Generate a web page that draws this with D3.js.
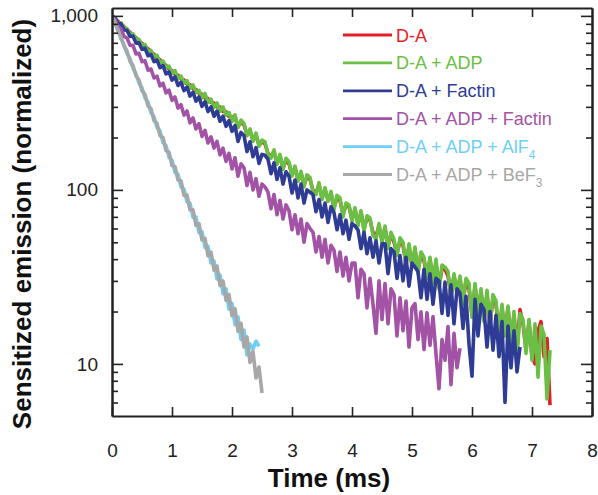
<!DOCTYPE html>
<html><head><meta charset="utf-8">
<script src="https://cdn.jsdelivr.net/npm/d3@7"></script>
<style>body{margin:0;background:#fff}svg{display:block}</style>
</head><body><svg id="chart" width="598" height="495"></svg>
<script>
// sampling interval of the traces (ms)
const sampleInterval = 0.05;

const seriesNames = ["D-A", "D-A + ADP", "D-A + Factin", "D-A + ADP + Factin", "D-A + ADP + AlF", "D-A + ADP + BeF"];
const seriesSubs  = ["", "", "", "", "4", "3"];
const seriesColors = ["#e41e26", "#6abf45", "#2e3c96", "#a253a6", "#6dcff6", "#a7a7a7"];

const xTicks = [0, 1, 2, 3, 4, 5, 6, 7, 8];
const yMajorTicks = [10, 100, 1000];
const yMinorTicks = [6, 7, 8, 9, 20, 30, 40, 50, 60, 70, 80, 90, 200, 300, 400, 500, 600, 700, 800, 900];

const dA = [1000, 960, 932, 892, 868, 830,
806, 771, 749, 716, 696, 665, 647, 618, 602, 574, 559, 533, 520, 495, 484,
462, 456, 434, 428, 407, 402, 382, 378, 358, 355, 337, 335, 318, 316, 300,
299, 282, 281, 264, 263, 262, 230, 246, 236, 208, 219, 192, 207, 181, 189,
184, 162, 155, 166, 142, 156, 133, 148, 141, 122, 134, 114, 125, 106, 119,
115, 99, 96, 107, 90, 100, 88, 95, 79, 90, 87, 72, 82, 80, 68,
77, 64, 74, 60, 69, 67, 57, 54, 62, 51, 60, 48, 55, 50, 43,
51, 48, 38, 47, 37, 45, 34, 43, 39, 32, 40, 30, 38, 28, 35,
35, 32, 25, 32, 26, 31, 23, 30, 27, 19, 28, 20, 26, 18, 25,
17, 24, 22, 15, 21, 15, 21, 13.5, 19, 12, 20.5, 17, 12, 17.5, 11,
10, 15.5, 17.5, 11, 14, 5.8];

const dA_ADP = [1000, 974, 910, 914, 855, 845,
787, 789, 735, 733, 679, 685, 625, 633, 584, 594, 539, 550, 507, 514, 467,
485, 434, 451, 411, 425, 382, 401, 363, 373, 337, 358, 318, 332, 297, 316,
283, 300, 269, 279, 247, 270, 228, 252, 241, 205, 224, 190, 212, 178, 193,
189, 160, 152, 170, 140, 160, 131, 152, 145, 120, 137, 112, 128, 104, 122,
118, 97, 94, 110, 88, 103, 86, 98, 77, 93, 90, 70, 84, 82, 66,
79, 62, 76, 58, 71, 69, 55, 52, 64, 50, 62, 46, 57, 52, 42,
53, 50, 37, 49, 36, 47, 33, 44, 41, 31, 41, 29, 40, 27, 37,
36, 34, 24, 33, 25, 32, 22, 31, 29, 18.5, 29, 19, 27, 17.5, 26.5,
16.5, 25, 23, 14.5, 22, 14.5, 21.5, 13, 20, 11, 19.5, 18, 11.5, 18, 10.5,
17, 8.4, 16.5, 14.8, 6.3, 12];

const dA_Factin = [1000, 973, 906, 900, 829, 827,
762, 765, 697, 700, 642, 652, 590, 600, 546, 557, 504, 518, 464, 476, 428,
446, 398, 415, 372, 390, 346, 364, 324, 342, 302, 321, 282, 300, 265, 284,
248, 265, 232, 250, 217, 234, 190, 214, 205, 166, 189, 155, 175, 142, 160,
158, 150, 124, 143, 115, 134, 108, 127, 120, 96, 114, 90, 108, 84, 100,
97, 94, 75, 88, 70, 84, 65, 80, 74, 59, 72, 56, 67, 52, 64,
62, 59, 46, 57, 43, 53, 41, 51, 38, 49, 49, 33, 46, 44, 31,
42, 30, 41, 28, 38, 36, 34, 24, 35, 23.5, 33, 22, 31, 30, 19.5,
29.5, 19, 28.5, 17, 27, 25.5, 16, 24.5, 13, 8.5, 23.5, 14.5, 22, 20.5, 12.5,
20, 12, 19, 11, 17.5, 6, 16.5, 9.5, 15.5, 9, 12.5];

const dA_ADP_Factin = [1000, 953, 864, 845, 762, 746,
677, 678, 605, 610, 545, 552, 488, 495, 440, 450, 396, 410, 361, 374, 327,
342, 295, 309, 269, 284, 243, 259, 224, 240, 203, 220, 186, 202, 174, 190,
159, 174, 146, 162, 132, 153, 120, 141, 134, 106, 126, 100, 116, 92, 108,
104, 97, 78, 94, 72, 87, 68, 82, 76, 59, 72, 56, 68, 50, 64,
60, 57, 44, 54, 41, 52, 38, 48, 45, 34, 44, 32, 41, 30, 38,
38, 24, 35, 33, 21, 31, 22, 15, 30, 18, 29, 17, 27, 25, 14.5,
24, 15.5, 23, 12.5, 21, 22.2, 13.8, 19.9, 12.1, 19.7, 12.8, 18.7, 11.4, 7.2, 13.8,
10.5, 16.4, 7.6, 15, 9.5, 12.3];

const dA_ADP_AlF4 = [1000, 899, 832, 737, 686, 607, 567, 500, 466, 410,
386, 337, 320, 277, 264, 228, 218, 187, 180, 154, 148, 126, 123, 104, 101,
85.3, 83.9, 69.5, 69.8, 56.7, 57.5, 46.7, 47.4, 38, 39, 30.8, 32.4, 25.3, 27, 20.6,
22.3, 16.8, 18.6, 13.8, 15.6, 11.3, 13, 12.2, 13.5, 12.6];

const dA_ADP_BeF3 = [1000, 917, 816, 759, 669, 628, 548, 518, 452, 428,
371, 354, 304, 293, 250, 241, 205, 200, 168, 165, 138, 136, 114, 113, 93,
93.3, 76.7, 76.9, 62.5, 63.9, 51.5, 52.7, 41.9, 43.9, 34.6, 36.5, 28.2, 30, 23.2, 25,
18.9, 20.8, 15.4, 17.1, 12.5, 14.3, 10.2, 11.8, 8.3, 9.6, 6.8];

const seriesData = [dA, dA_ADP, dA_Factin, dA_ADP_Factin, dA_ADP_AlF4, dA_ADP_BeF3];

const svg = d3.select("#chart");
const W = 598, H = 495;
const plot = {left: 112, right: 592, top: 8, bottom: 416};
const font = "'Liberation Sans', Arial, Helvetica, sans-serif";
const axisColor = "#222";

const x = d3.scaleLinear().domain([0, 8]).range([plot.left, plot.right]);
const y = d3.scaleLog().domain([5.02, 1110]).range([plot.bottom, plot.top]);

svg.append("rect").attr("width", W).attr("height", H).attr("fill", "#fff");

svg.append("clipPath").attr("id", "clip").append("rect")
  .attr("x", plot.left).attr("y", plot.top)
  .attr("width", plot.right - plot.left).attr("height", plot.bottom - plot.top);

// traces
const line = d3.line().x((d, i) => x(i * sampleInterval)).y(d => y(d));
const traces = svg.append("g").attr("clip-path", "url(#clip)");
seriesData.forEach((s, k) => {
  traces.append("path").datum(s)
    .attr("d", line)
    .attr("fill", "none")
    .attr("stroke", seriesColors[k])
    .attr("stroke-width", 3.6)
    .attr("stroke-linejoin", "round");
});

// axes
function styleAxis(g) {
  g.select(".domain").attr("stroke", axisColor).attr("stroke-width", 2);
  g.selectAll(".tick line").attr("stroke", axisColor).attr("stroke-width", 1.6);
  g.selectAll(".tick text").attr("fill", "#222").style("font-family", font).style("font-size", "19px");
}
svg.append("g").attr("transform", `translate(0,${plot.bottom})`)
  .call(d3.axisBottom(x).tickValues(xTicks).tickFormat(d3.format("d")).tickSize(-9).tickSizeOuter(0).tickPadding(28))
  .call(styleAxis);
svg.append("g").attr("transform", `translate(0,${plot.top})`)
  .call(d3.axisTop(x).tickValues(xTicks.slice(1, -1)).tickFormat("").tickSize(-9).tickSizeOuter(0))
  .call(styleAxis);
svg.append("g").attr("transform", `translate(${plot.left},0)`)
  .call(d3.axisLeft(y).tickValues(yMajorTicks).tickFormat(d3.format(",")).tickSize(-11).tickSizeOuter(0).tickPadding(14))
  .call(styleAxis);
svg.append("g").attr("transform", `translate(${plot.left},0)`)
  .call(d3.axisLeft(y).tickValues(yMinorTicks).tickFormat("").tickSize(-6).tickSizeOuter(0))
  .call(styleAxis);
svg.append("g").attr("transform", `translate(${plot.right},0)`)
  .call(d3.axisRight(y).tickValues(yMajorTicks).tickFormat("").tickSize(-11).tickSizeOuter(0))
  .call(styleAxis);
svg.append("g").attr("transform", `translate(${plot.right},0)`)
  .call(d3.axisRight(y).tickValues(yMinorTicks).tickFormat("").tickSize(-6).tickSizeOuter(0))
  .call(styleAxis);

// axis titles
svg.append("text").attr("x", 329).attr("y", 487).attr("text-anchor", "middle")
  .style("font-family", font).style("font-size", "26px").style("font-weight", "bold").attr("fill", "#111")
  .text("Time (ms)");
svg.append("text").attr("transform", "translate(31,224) rotate(-90)").attr("text-anchor", "middle")
  .style("font-family", font).style("font-size", "26px").style("font-weight", "bold").attr("fill", "#111")
  .text("Sensitized emission (normalized)");

// legend
const legend = svg.append("g");
seriesNames.forEach((name, k) => {
  const ly = 35 + k * 27.9;
  legend.append("line").attr("x1", 343).attr("x2", 392).attr("y1", ly).attr("y2", ly)
    .attr("stroke", seriesColors[k]).attr("stroke-width", 2.8);
  const t = legend.append("text").attr("x", 396).attr("y", ly + 6.5)
    .attr("fill", seriesColors[k]).style("font-family", font).style("font-size", "18px");
  t.append("tspan").text(name);
  if (seriesSubs[k]) t.append("tspan").attr("dy", 6).style("font-size", "12px").text(seriesSubs[k]);
});
</script></body></html>
